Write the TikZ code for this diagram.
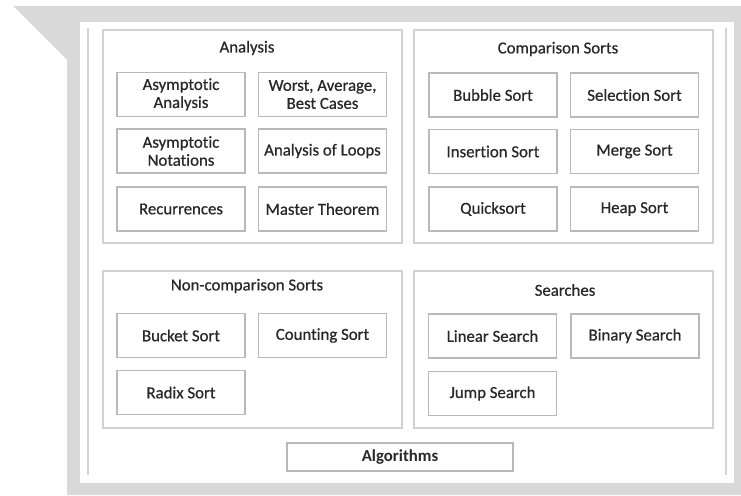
\documentclass[tikz,border=0pt]{standalone}
\usepackage{fontspec}
\setmainfont[Ligatures=NoCommon]{Carlito}
\newfontfamily\heavyfont[FakeBold=0.6,Ligatures=NoCommon]{Carlito}
\definecolor{framegray}{RGB}{217,217,217}
\definecolor{boxgray}{RGB}{185,185,185}
\definecolor{contgray}{RGB}{210,210,210}
\definecolor{linegray}{RGB}{212,212,212}
\definecolor{txt}{RGB}{40,40,40}
\begin{document}
\begin{tikzpicture}[x=1pt,y=-1pt,
  container/.style={draw=contgray,line width=1.2pt,minimum width=299pt,inner sep=0pt},
  itembox/.style={draw=boxgray,line width=1.2pt,minimum width=128pt,minimum height=44pt,inner sep=1pt,align=center,text=txt,font=\heavyfont\fontsize{16.8}{18}\selectfont},
  titletext/.style={text=txt,font=\heavyfont\fontsize{16.8}{18}\selectfont,inner sep=0pt},
  outerline/.style={draw=linegray,line width=1.5pt}]
\useasboundingbox (0,0) rectangle (741,495);
\fill[white] (0,0) rectangle (741,495);
\fill[framegray] (13,6) -- (741,6) -- (741,495) -- (67,495) -- (67,60) -- cycle;
\fill[white] (80,22) rectangle (734,483);
\draw[outerline] (88,28) -- (88,475);
\draw[outerline] (726,28) -- (726,475);
% containers
\node[container,minimum height=213pt] (cAna) at (252.5,136.5) {};
\node[container,minimum height=213pt] (cCmp) at (563.5,136.5) {};
\node[container,minimum height=157pt] (cNon) at (252.5,349.5) {};
\node[container,minimum height=157pt] (cSrc) at (563.5,349.5) {};
% titles
\node[titletext] (tAna) at (247,48) {Analysis};
\node[titletext] (tCmp) at (558,49) {Comparison Sorts};
\node[titletext] (tNon) at (247,286) {Non-comparison Sorts};
\node[titletext] (tSrc) at (565,290) {Searches};
% Analysis
\node[itembox] (a1) at (181,94.5) {Asymptotic\\Analysis};
\node[itembox] (a2) at (322.5,94.5) {Worst, Average,\\Best Cases};
\node[itembox] (a3) at (181,151) {Asymptotic\\Notations};
\node[itembox] (a4) at (322.5,151) {Analysis of Loops};
\node[itembox] (a5) at (181,209) {Recurrences};
\node[itembox] (a6) at (322.5,209) {Master Theorem};
% Comparison
\node[itembox] (b1) at (493,95) {Bubble Sort};
\node[itembox] (b2) at (634.5,95) {Selection Sort};
\node[itembox] (b3) at (493,151.5) {Insertion Sort};
\node[itembox] (b4) at (634.5,151.5) {Merge Sort};
\node[itembox] (b5) at (493,209) {Quicksort};
\node[itembox] (b6) at (634.5,209) {Heap Sort};
% Non-comparison
\node[itembox] (n1) at (181,335.5) {Bucket Sort};
\node[itembox] (n2) at (322.5,335.5) {Counting Sort};
\node[itembox] (n3) at (181,392.5) {Radix Sort};
% Searches
\node[itembox] (s1) at (492.5,336) {Linear Search};
\node[itembox] (s2) at (635,336) {Binary Search};
\node[itembox] (s3) at (492.5,393.5) {Jump Search};
% Algorithms
\node[itembox,minimum width=226pt,minimum height=28pt,font=\fontsize{16.8}{18}\selectfont\bfseries] (alg) at (400,457) {Algorithms};
\end{tikzpicture}
\end{document}
